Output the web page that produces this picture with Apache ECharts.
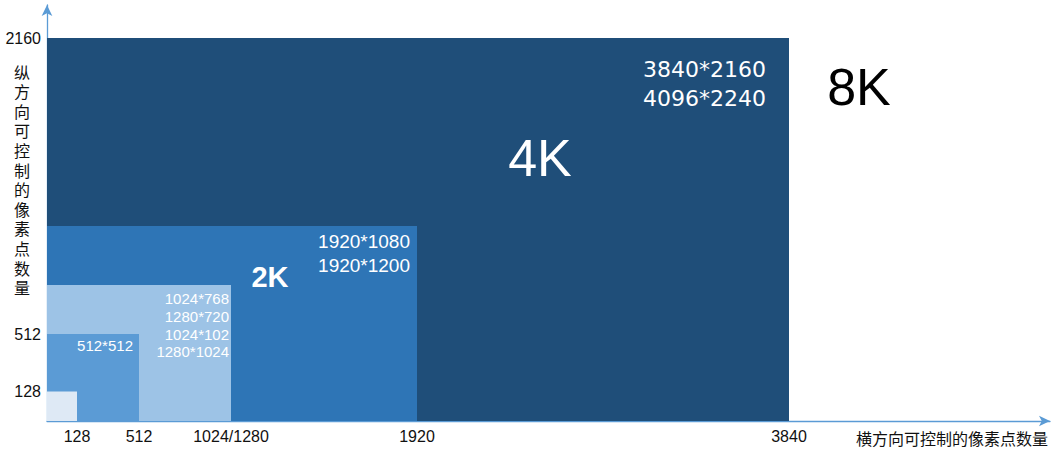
<!DOCTYPE html>
<html><head><meta charset="utf-8">
<script src="https://cdn.jsdelivr.net/npm/echarts@6/dist/echarts.min.js"></script>
<style>html,body{margin:0;padding:0;background:#fff}#c{width:1058px;height:455px}</style>
</head><body><div id="c"></div>
<script>
// ---- data ----
const xTickValues = [128, 512, 1280, 1920, 3840];
const xTickLabels = ['128', '512', '1024/1280', '1920', '3840'];
const yTickValues = [128, 512, 2160];
const yTickLabels = ['128', '512', '2160'];
const blockWidths = [3840, 1920, 1280, 512, 128];
const blockHeights = [2160, 1080, 768, 512, 128];
const blockResolutions = [
  ['3840*2160', '4096*2240'],
  ['1920*1080', '1920*1200'],
  ['1024*768', '1280*720', '1024*102', '1280*1024'],
  ['512*512'],
  []
];
const blockTitles = ['4K', '2K', '', '', ''];
const outerTitle = '8K';
const xAxisName = '横方向可控制的像素点数量';
const yAxisName = '纵方向可控制的像素点数量';

// hand-drawn non-linear axis scale: resolution value -> axis position
const xScaleDomain = [0, 128, 512, 1280, 1920, 3840];
const xScaleRange = [0, 30, 92, 184, 370, 742];
const yScaleDomain = [0, 128, 512, 768, 1080, 2160];
const yScaleRange = [0, 29.5, 87, 136, 195, 383];
const xAxisExtent = 1003;
const yAxisExtent = 416;

function piecewise(dom, rng, v) {
  for (let i = 1; i < dom.length; i++) {
    if (v <= dom[i] || i === dom.length - 1) {
      const t = (v - dom[i - 1]) / (dom[i] - dom[i - 1]);
      return rng[i - 1] + t * (rng[i] - rng[i - 1]);
    }
  }
}
const mapX = v => piecewise(xScaleDomain, xScaleRange, v);
const mapY = v => piecewise(yScaleDomain, yScaleRange, v);

const xLabelByPos = {};
xTickValues.forEach((v, i) => { xLabelByPos[mapX(v).toFixed(2)] = xTickLabels[i]; });
const yLabelByPos = {};
yTickValues.forEach((v, i) => { yLabelByPos[mapY(v).toFixed(2)] = yTickLabels[i]; });

// ---- styles ----
const blockColors = ['#1f4e79', '#2e75b6', '#9dc3e6', '#5b9bd5', '#dee9f5'];
const resLabelStyle = [
  { dx: -23, dy: 17.7, size: 22, lh: 28.5, family: 'DejaVu Sans' },
  { dx: -7, dy: 3, size: 19, lh: 24, family: 'Liberation Sans' },
  { dx: -2, dy: 4.6, size: 15, lh: 17.8, family: 'Liberation Sans' },
  { dx: -6, dy: 2, size: 15, lh: 18, family: 'Liberation Sans' },
  { dx: 0, dy: 0, size: 15, lh: 18, family: 'Liberation Sans' }
];
const titleStyle = [
  { dx: -249, dy: 120, size: 52, weight: 'normal' },
  { dx: -147, dy: 51, size: 29, weight: 'bold' },
  null, null, null
];
const outerTitleStyle = { dx: 70, dy: 49, size: 52 };
const yNameStyle = { cx: 22, firstCy: 73, step: 19.6, size: 16 };
const cjkFont = '"Liberation Sans", "Noto Sans CJK SC", sans-serif';

const chart = echarts.init(document.getElementById('c'), null, { renderer: 'svg' });

const axisLineStyle = { color: '#5b9bd5', width: 1.3 };

const yNameChars = yAxisName.split('').map((ch, k) => ({
  type: 'text', x: yNameStyle.cx, y: yNameStyle.firstCy + k * yNameStyle.step, silent: true,
  style: {
    text: ch, fontFamily: cjkFont, fontSize: yNameStyle.size, lineHeight: yNameStyle.size,
    fill: '#111', align: 'center', verticalAlign: 'middle'
  }
}));

chart.setOption({
  animation: false,
  backgroundColor: '#fff',
  grid: { left: 47, right: 8, top: 5, bottom: 34 },
  xAxis: {
    type: 'value', min: 0, max: xAxisExtent,
    splitLine: { show: false },
    axisTick: { show: false },
    axisLine: { show: true, onZero: false, symbol: ['none', 'arrow'], symbolSize: [8, 11], lineStyle: axisLineStyle },
    axisLabel: {
      customValues: xTickValues.map(mapX),
      formatter: v => xLabelByPos[(+v).toFixed(2)] || '',
      fontFamily: 'Liberation Sans', fontSize: 16, color: '#111', margin: 7
    }
  },
  yAxis: {
    type: 'value', min: 0, max: yAxisExtent,
    splitLine: { show: false },
    axisTick: { show: false },
    axisLine: { show: true, onZero: false, symbol: ['none', 'arrow'], symbolSize: [8, 11], lineStyle: axisLineStyle },
    axisLabel: {
      customValues: yTickValues.map(mapY),
      formatter: v => yLabelByPos[(+v).toFixed(2)] || '',
      fontFamily: 'Liberation Sans', fontSize: 16, color: '#111', margin: 6
    }
  },
  graphic: [
    { type: 'group', children: yNameChars },
    {
      type: 'text', right: 10, top: 431, silent: true,
      style: { text: xAxisName, fontFamily: cjkFont, fontSize: 16, fill: '#111' }
    }
  ],
  series: [{
    type: 'custom',
    coordinateSystem: 'cartesian2d',
    clip: false,
    data: blockWidths.map((w, i) => [mapX(w), mapY(blockHeights[i])]),
    renderItem: function (params, api) {
      const i = params.dataIndex;
      const p0 = api.coord([0, 0]);
      const p1 = api.coord([api.value(0), api.value(1)]);
      const children = [{
        type: 'rect',
        shape: { x: p0[0], y: p1[1], width: p1[0] - p0[0], height: p0[1] - p1[1] },
        style: { fill: blockColors[i] }
      }];
      const rs = resLabelStyle[i];
      if (blockResolutions[i].length) {
        children.push({
          type: 'text',
          style: {
            text: blockResolutions[i].join('\n'),
            x: p1[0] + rs.dx, y: p1[1] + rs.dy,
            align: 'right', verticalAlign: 'top',
            fontFamily: rs.family, fontSize: rs.size, lineHeight: rs.lh, fill: '#fff'
          }
        });
      }
      const ts = titleStyle[i];
      if (blockTitles[i] && ts) {
        children.push({
          type: 'text',
          style: {
            text: blockTitles[i], x: p1[0] + ts.dx, y: p1[1] + ts.dy,
            align: 'center', verticalAlign: 'middle',
            fontFamily: 'Liberation Sans', fontSize: ts.size, fontWeight: ts.weight, fill: '#fff'
          }
        });
      }
      if (i === 0) {
        children.push({
          type: 'text',
          style: {
            text: outerTitle, x: p1[0] + outerTitleStyle.dx, y: p1[1] + outerTitleStyle.dy,
            align: 'center', verticalAlign: 'middle',
            fontFamily: 'Liberation Sans', fontSize: outerTitleStyle.size, fill: '#000'
          }
        });
      }
      return { type: 'group', children: children };
    }
  }]
});
</script>
</body></html>
